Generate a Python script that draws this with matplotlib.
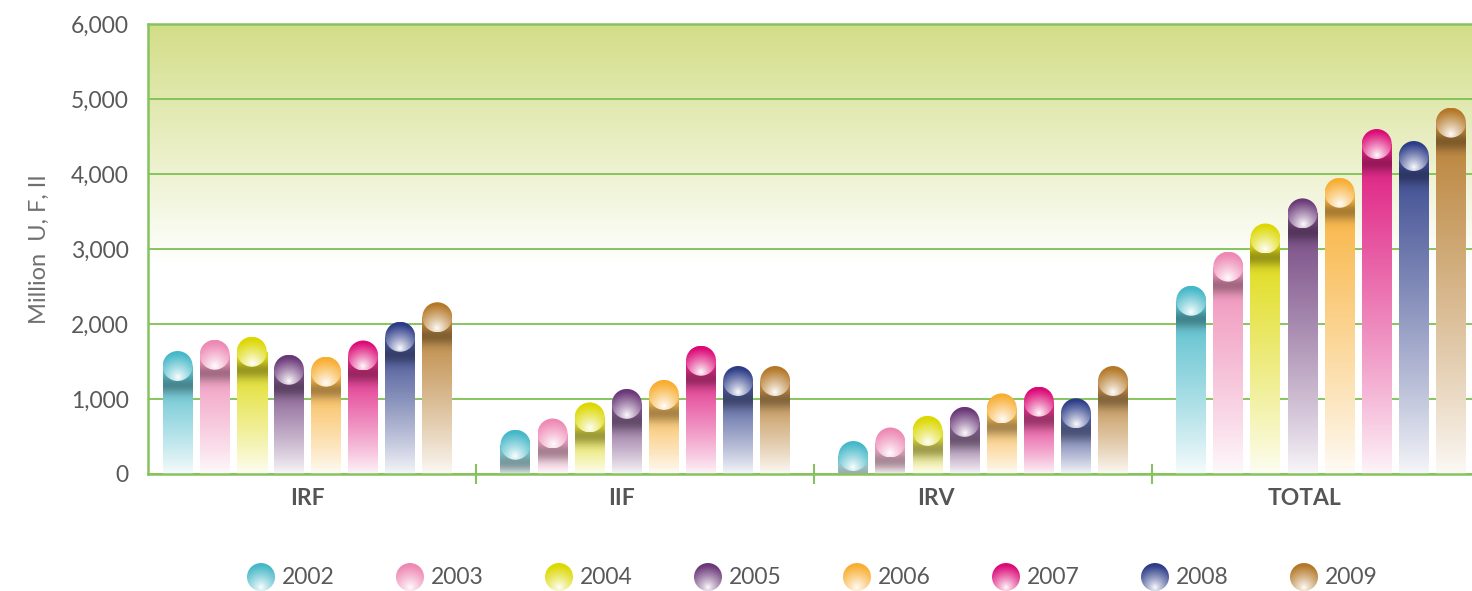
import numpy as np
import matplotlib
matplotlib.use("Agg")
import matplotlib.pyplot as plt
from matplotlib.patches import Ellipse, Circle
from matplotlib.colors import to_rgb

plt.rcParams['font.family'] = ['Lato', 'DejaVu Sans']

# data
categories = ['IRF', 'IIF', 'IRV', 'TOTAL']
years = ['2002', '2003', '2004', '2005', '2006', '2007', '2008', '2009']
colors = ['#45b8c8', '#ee88b4', '#dcd800', '#6a3878',
          '#f8ae32', '#dc0a76', '#2c3c88', '#b47828']

irf = [1440, 1590, 1630, 1390, 1365, 1580, 1830, 2090]
iif = [390, 540, 755, 935, 1055, 1510, 1240, 1240]
irv = [240, 420, 575, 695, 875, 965, 810, 1240]
total = [2310, 2765, 3140, 3475, 3750, 4400, 4240, 4685]

values = np.array([irf, iif, irv, total])
label_shift = [0.0, -0.07, -0.14, -0.05]   # category labels sit a bit left of centre

W, H = 1472, 591
fig = plt.figure(figsize=(W / 100, H / 100), dpi=100)
ax = fig.add_axes([148 / W, 117 / H, 1342 / W, 450 / H])

xlim = (-0.472, 3.5)
ylim = (0, 6000)
ax.set_xlim(*xlim)
ax.set_ylim(*ylim)

px_y = 450 / 6000      # pixels per data unit (y)
px_x = 1342 / (xlim[1] - xlim[0])

white = np.array([1.0, 1.0, 1.0])

# background gradient (green at top -> white by ~3000)
yy = np.linspace(0, 6000, 300)
t = np.clip((yy - 2800) / 3200, 0, 1)[:, None]
top_col = np.array(to_rgb('#d3de88'))
bg = white * (1 - t) + top_col * t
ax.imshow(bg[:, None, :].repeat(2, axis=1), extent=[xlim[0], xlim[1], 0, 6000],
          origin='lower', aspect='auto', zorder=-2, interpolation='bilinear')

ax.set_yticks(range(0, 6001, 1000))
ax.set_yticklabels(['{:,}'.format(v) for v in range(0, 6001, 1000)])
ax.yaxis.grid(True, color='#7cc152', lw=1.3)
ax.set_axisbelow(True)

green = '#86c35f'
for s in ['left', 'bottom', 'top']:
    ax.spines[s].set_color(green)
    ax.spines[s].set_linewidth(1.8)
ax.spines['right'].set_visible(False)

ax.tick_params(axis='y', length=0, pad=14, labelsize=16.5, labelcolor='#595959')
ax.set_xticks([0.5, 1.5, 2.5])
ax.set_xticklabels([])
ax.tick_params(axis='x', which='major', direction='inout', length=14, width=1.5, color=green)
ax.set_xticks([i + s for i, s in enumerate(label_shift)], minor=True)
ax.set_xticklabels(categories, minor=True, fontsize=16.5, fontweight='bold', color='#555555')
ax.tick_params(axis='x', which='minor', length=0, pad=10)
ax.set_ylabel('Million  U, F, II', fontsize=17, color='#707070', labelpad=15)

bar_w = 30 / px_x
step = 37.1 / px_x
cap_r = 15 / px_y


def cap_image(c, n=64):
    u, v = np.meshgrid(np.linspace(-1, 1, n), np.linspace(-1, 1, n))
    d = np.sqrt(u ** 2 + (v - 0.75) ** 2)
    m = np.clip(d / 1.6, 0, 1) ** 0.85
    return white * (1 - m[..., None]) + c * m[..., None]


for j, (yr, col) in enumerate(zip(years, colors)):
    c = np.array(to_rgb(col))
    xs = np.arange(len(categories)) + (j - 3.5) * step
    bars = ax.bar(xs, values[:, j], width=bar_w, color='none', zorder=2)
    for x, v, b in zip(xs, values[:, j], bars):
        # body: colour at top fading to white at the bottom, with shadow under the cap
        ys = np.linspace(0, v, 200)
        m = 0.04 + 0.9 * (ys / v) ** 0.9
        img = white * (1 - m[:, None]) + c * m[:, None]
        dpx = (v - ys) * px_y
        dark = 0.32 * np.exp(-((dpx - 19) / 9.0) ** 2)
        img = img * (1 - dark[:, None])
        im = ax.imshow(img[:, None, :].repeat(2, axis=1), extent=[x - bar_w / 2, x + bar_w / 2, 0, v],
                       origin='lower', aspect='auto', zorder=2, interpolation='bilinear')
        im.set_clip_path(b)
        # cap
        e = Ellipse((x, v), bar_w, 2 * cap_r, facecolor='none', edgecolor='none',
                    transform=ax.transData)
        ax.add_patch(e)
        ci = ax.imshow(cap_image(c), extent=[x - bar_w / 2, x + bar_w / 2, v - cap_r, v + cap_r],
                       origin='upper', aspect='auto', zorder=3, interpolation='bilinear')
        ci.set_clip_path(e)

ax.set_xlim(*xlim)
ax.set_ylim(*ylim)

# legend row
lax = fig.add_axes([0, 0, 1, 60 / H])
lax.set_xlim(0, W)
lax.set_ylim(0, 60)
lax.axis('off')
for k, (yr, col) in enumerate(zip(years, colors)):
    cx, cy, r = 261 + 149 * k, 14, 14
    circ = Circle((cx, cy), r, facecolor='none', edgecolor='none')
    lax.add_patch(circ)
    li = lax.imshow(cap_image(np.array(to_rgb(col))), extent=[cx - r, cx + r, cy - r, cy + r],
                    origin='upper', aspect='auto', interpolation='bilinear')
    li.set_clip_path(circ)
    lax.text(cx + 21, cy, yr, va='center', ha='left', fontsize=16.5, color='#595959')
lax.set_xlim(0, W)
lax.set_ylim(0, 60)

fig.savefig('out.png', dpi=100)
